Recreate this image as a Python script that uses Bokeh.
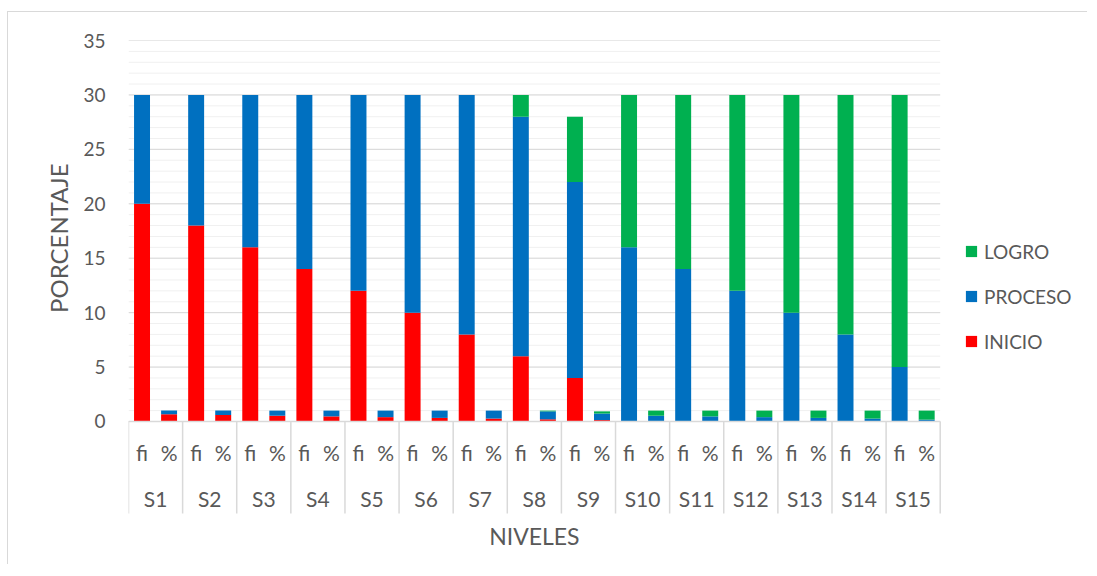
from bokeh.plotting import figure
from bokeh.models import (FactorRange, Range1d, FixedTicker, ColumnDataSource,
                          Legend, LegendItem, Title)
from bokeh.core.properties import value
from bokeh.embed import file_html
from bokeh.resources import INLINE

# ---- data ----
groups = ["S1", "S2", "S3", "S4", "S5", "S6", "S7", "S8", "S9", "S10",
          "S11", "S12", "S13", "S14", "S15"]
subs = ["fi", "%"]
series = ["INICIO", "PROCESO", "LOGRO"]
colors = ["#ff0000", "#0070c0", "#00b050"]

inicio_fi = [20, 18, 16, 14, 12, 10, 8, 6, 4, 0, 0, 0, 0, 0, 0]
proceso_fi = [10, 12, 14, 16, 18, 20, 22, 22, 18, 16, 14, 12, 10, 8, 5]
logro_fi = [0, 0, 0, 0, 0, 0, 0, 2, 6, 14, 16, 18, 20, 22, 25]

inicio_pct = [0.67, 0.60, 0.53, 0.47, 0.40, 0.33, 0.27, 0.20, 0.13, 0, 0, 0, 0, 0, 0]
proceso_pct = [0.33, 0.40, 0.47, 0.53, 0.60, 0.67, 0.73, 0.73, 0.60, 0.53, 0.47, 0.40, 0.33, 0.27, 0.17]
logro_pct = [0, 0, 0, 0, 0, 0, 0, 0.07, 0.20, 0.47, 0.53, 0.60, 0.67, 0.73, 0.83]

y_ticks = [0, 5, 10, 15, 20, 25, 30, 35]
y_minor = list(range(0, 36))

# ---- build table ----
factors = [(g, s) for g in groups for s in subs]
# empty slots on the right of the category range leave room for the legend
spare = [(" ", str(i)) for i in range(5)]


def interleave(a, b):
    out = []
    for u, v in zip(a, b):
        out += [u, v]
    return out


src = ColumnDataSource(dict(
    x=factors,
    INICIO=interleave(inicio_fi, inicio_pct),
    PROCESO=interleave(proceso_fi, proceso_pct),
    LOGRO=interleave(logro_fi, logro_pct),
))

FONT = "Lato"
TXT = "#595959"
GRIDC = "#d9d9d9"
MINORC = "#f0f0f0"

ROW1_Y = -2.85
ROW2_Y = -7.1
SEP_Y = -8.45
TITLE_Y = -10.5

x_range = FactorRange(*(factors + spare), group_padding=0, factor_padding=0,
                      range_padding=0)
p = figure(width=1080, height=553, x_range=x_range, y_range=Range1d(-12.77, 35),
           output_backend="svg", toolbar_location=None,
           min_border_left=120, min_border_right=13, min_border_top=28,
           min_border_bottom=5)
p.styles = {"border-left": "1px solid #d9d9d9", "border-top": "1px solid #d9d9d9",
            "margin-top": "11px", "margin-left": "7px"}
p.outline_line_color = None
p.background_fill_color = "white"

bounds = [(g, "fi", -0.5) for g in groups] + [(groups[-1], "%", 0.5)]
x_first, x_last = bounds[0], bounds[-1]

# gridlines (limited to the category block)
p.segment(x0=[x_first] * len(y_minor), y0=y_minor, x1=[x_last] * len(y_minor),
          y1=y_minor, line_color=MINORC, line_width=1)
p.segment(x0=[x_first] * len(y_ticks), y0=y_ticks, x1=[x_last] * len(y_ticks),
          y1=y_ticks, line_color=GRIDC, line_width=1)

renderers = p.vbar_stack(series, x="x", width=0.59, color=colors, line_color=None,
                         source=src)

# axes
p.xaxis.visible = False
p.xgrid.visible = False
p.ygrid.visible = False
yax = p.yaxis[0]
yax.ticker = FixedTicker(ticks=y_ticks, minor_ticks=y_minor)
yax.bounds = (0, 35)
yax.axis_line_color = None
yax.major_tick_line_color = None
yax.minor_tick_line_color = None
yax.major_label_standoff = 17
yax.major_label_text_font = FONT
yax.major_label_text_font_size = "19px"
yax.major_label_text_color = TXT

ytitle = Title(text="PORCENTAJE", align="right", offset=123, standoff=16,
               text_font=FONT, text_font_size="24px", text_font_style="normal",
               text_color=TXT)
p.add_layout(ytitle, "left")

# category axis table
p.segment(x0=bounds, y0=[0] * len(bounds), x1=bounds, y1=[SEP_Y] * len(bounds),
          line_color=GRIDC, line_width=1.5)
p.segment(x0=[x_first], y0=[0], x1=[x_last], y1=[0], line_color=GRIDC,
          line_width=1.5)

p.text(x=factors, y=[ROW1_Y] * len(factors), text=[f[1] for f in factors],
       text_font=value(FONT), text_font_size="21px", text_color=TXT,
       text_align="center", text_baseline="middle")
p.text(x=groups, y=[ROW2_Y] * len(groups), text=groups,
       text_font=value(FONT), text_font_size="21px", text_color=TXT,
       text_align="center", text_baseline="middle")
p.text(x=[("S8", "fi", 0.5)], y=[TITLE_Y], text=["NIVELES"],
       text_font=value(FONT), text_font_size="23px", text_color=TXT,
       text_align="center", text_baseline="middle")

legend = Legend(items=[LegendItem(label=series[i], renderers=[renderers[i]])
                       for i in (2, 1, 0)],
                location=(836, 207), orientation="vertical",
                glyph_width=14, glyph_height=14, label_height=24, label_width=10,
                spacing=21, padding=0, margin=0, label_standoff=6,
                label_text_font=FONT, label_text_font_size="19px",
                label_text_color=TXT, border_line_color=None,
                background_fill_alpha=0)
p.add_layout(legend, "center")

open("out.html", "w").write(file_html(p, INLINE))
